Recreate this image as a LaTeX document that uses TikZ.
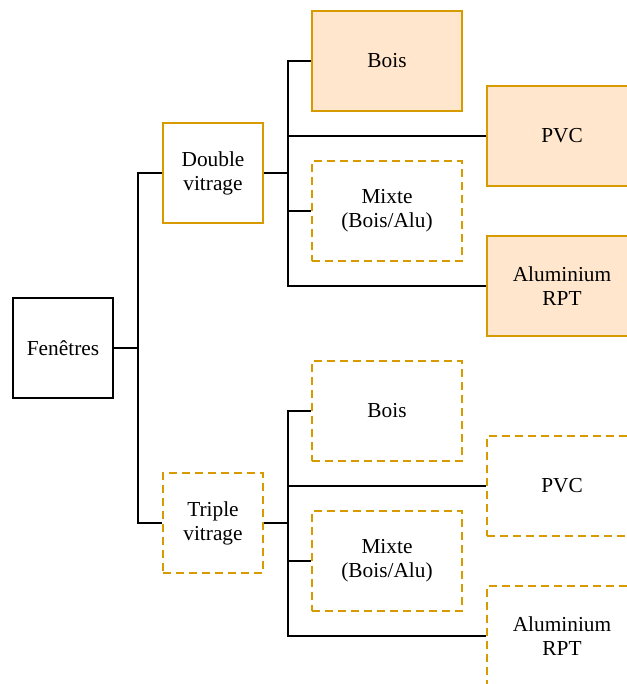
\documentclass[tikz,border=0pt]{standalone}
\usepackage{fontspec}
\setmainfont{Liberation Serif}
\usepackage{tikz}
\usetikzlibrary{positioning}

\definecolor{orangeline}{HTML}{D79B00}
\definecolor{orangefill}{HTML}{FFE6CC}

\tikzset{
	box/.style = {draw, line width = 1.5pt, minimum width = 75pt, minimum height = 75pt, align = center, font = \fontsize{16}{18}\selectfont},
	wbox/.style = {box, minimum width = 112.5pt},
	chosen/.style = {draw = orangeline, fill = orangefill},
	option/.style = {draw = orangeline, dashed, dash pattern = on 6pt off 3.75pt},
	link/.style = {draw, line width = 1.5pt}
}

\begin{document}
\begin{tikzpicture}[x = 0.75pt, y = -0.75pt]
		\useasboundingbox (0, 0) rectangle (627, 684);

		\node[box] (fen) at (63, 348) {Fenêtres};
		\node[box, draw = orangeline] (dbl) at (213, 173) {Double\\vitrage};
		\node[box, option] (tpl) at (213, 523) {Triple\\vitrage};

		\node[wbox, chosen] (dbois) at (387, 61) {Bois};
		\node[wbox, chosen] (dpvc) at (562, 136) {PVC};
		\node[wbox, option] (dmix) at (387, 211) {Mixte\\(Bois/Alu)};
		\node[wbox, chosen] (dalu) at (562, 286) {Aluminium\\RPT};

		\node[wbox, option] (tbois) at (387, 411) {Bois};
		\node[wbox, option] (tpvc) at (562, 486) {PVC};
		\node[wbox, option] (tmix) at (387, 561) {Mixte\\(Bois/Alu)};
		\node[wbox, option] (talu) at (562, 636) {Aluminium\\RPT};

		\coordinate (j0) at (138, 348);
		\coordinate (j1) at (288, 173);
		\coordinate (j2) at (288, 523);

		\path[link] (fen) -- (j0);
		\path[link] (j0) |- (dbl);
		\path[link] (j0) |- (tpl);

		\path[link] (dbl) -- (j1);
		\path[link] (j1) |- (dbois);
		\path[link] (j1) |- (dpvc);
		\path[link] (j1) |- (dmix);
		\path[link] (j1) |- (dalu);

		\path[link] (tpl) -- (j2);
		\path[link] (j2) |- (tbois);
		\path[link] (j2) |- (tpvc);
		\path[link] (j2) |- (tmix);
		\path[link] (j2) |- (talu);
    \end{tikzpicture}
\end{document}
